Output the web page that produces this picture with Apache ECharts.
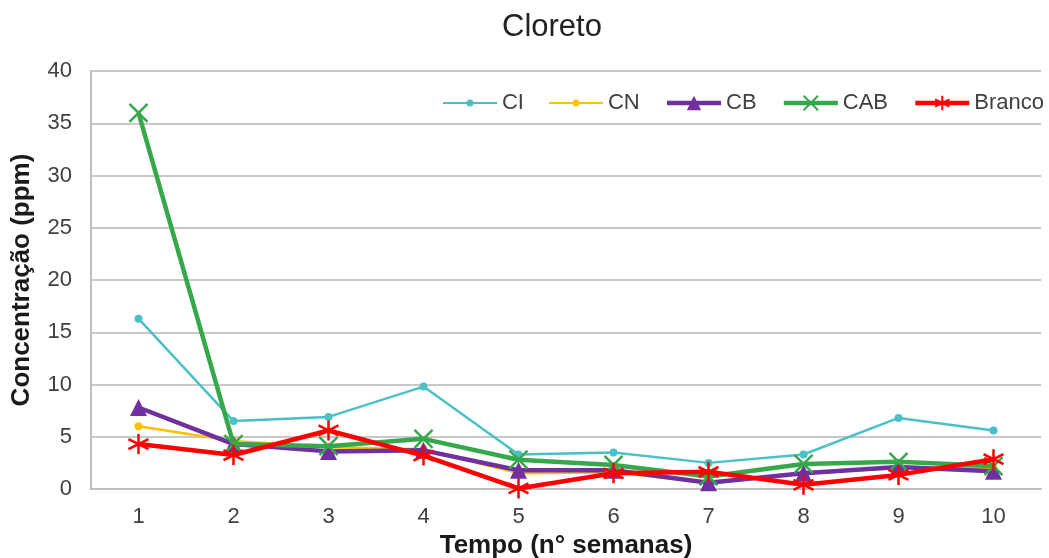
<!DOCTYPE html>
<html>
<head>
<meta charset="utf-8">
<script src="https://cdn.jsdelivr.net/npm/echarts@6/dist/echarts.min.js"></script>
<style>
html,body{margin:0;padding:0;background:#fff;}
#chart{width:1049px;height:558px;}
</style>
</head>
<body>
<div id="chart"></div>
<script>
const categories = ['1','2','3','4','5','6','7','8','9','10'];
const seriesNames = ['CI','CN','CB','CAB','Branco'];
const CI     = [16.3, 6.5, 6.9, 9.8, 3.3, 3.5, 2.5, 3.3, 6.8, 5.6];
const CN     = [6.0, 4.6, 4.0, 3.8, 1.5, 1.6, 0.6, 1.5, 2.0, 2.0];
const CB     = [7.8, 4.3, 3.6, 3.7, 1.8, 1.8, 0.6, 1.5, 2.1, 1.7];
const CAB    = [36.0, 4.3, 4.1, 4.8, 2.8, 2.3, 1.2, 2.4, 2.6, 2.2];
const Branco = [4.3, 3.25, 5.6, 3.2, 0.05, 1.5, 1.65, 0.4, 1.35, 2.85];
const yTicks = {min: 0, max: 40, interval: 5};

const FONT = 'Liberation Sans, Arial, sans-serif';
const xPath = 'path://M0,0 L10,10 M10,0 L0,10';
const starPath = 'path://M5,0 L5,10 M0.7,2.5 L9.3,7.5 M0.7,7.5 L9.3,2.5';
// legend icon: thin line with a small dot, drawn in a 54x18 box
const lineDot = 'path://M0,0h0.05v0.05h-0.05z M53.95,17.95h0.05v0.05h-0.05z ' +
  'M0,7.9 H23.6 V10.1 H0 Z M30.4,7.9 H54 V10.1 H30.4 Z ' +
  'M23.5,9 a3.5,3.5 0 1,1 7,0 a3.5,3.5 0 1,1 -7,0 Z';

const chart = echarts.init(document.getElementById('chart'), null, {renderer: 'canvas'});
chart.setOption({
  backgroundColor: '#fff',
  animation: false,
  title: {
    text: 'Cloreto', left: 497, top: 7,
    textStyle: {fontFamily: FONT, fontSize: 31, fontWeight: 'normal', color: '#222'}
  },
  legend: {
    right: 0, top: 87, itemWidth: 54, itemHeight: 18, itemGap: 25,
    lineStyle: {width: 'inherit'},
    textStyle: {fontFamily: FONT, fontSize: 22, color: '#404040'},
    data: [
      {name: 'CI', icon: lineDot},
      {name: 'CN', icon: lineDot},
      {name: 'CB'},
      {name: 'CAB'},
      {name: 'Branco'}
    ]
  },
  grid: {left: 91, right: 8, top: 71, bottom: 69, containLabel: false, outerBoundsMode: 'none'},
  xAxis: {
    type: 'category', data: categories, boundaryGap: true,
    name: 'Tempo (n° semanas)', nameLocation: 'middle', nameGap: 43,
    nameTextStyle: {fontFamily: FONT, fontSize: 26, fontWeight: 'bold', color: '#1a1a1a'},
    axisLine: {lineStyle: {color: '#bfbfbf', width: 2}},
    axisTick: {show: false},
    axisLabel: {fontFamily: FONT, fontSize: 22, color: '#404040', margin: 17}
  },
  yAxis: {
    type: 'value', min: yTicks.min, max: yTicks.max, interval: yTicks.interval,
    name: 'Concentração (ppm)', nameLocation: 'middle', nameGap: 56,
    nameTextStyle: {fontFamily: FONT, fontSize: 26, fontWeight: 'bold', color: '#1a1a1a'},
    axisLine: {show: true, lineStyle: {color: '#bfbfbf', width: 2}},
    axisTick: {show: false},
    splitLine: {lineStyle: {color: '#c8c8c8', width: 2}},
    axisLabel: {fontFamily: FONT, fontSize: 22, color: '#404040', margin: 19}
  },
  series: [
    {name: 'CI', type: 'line', data: CI, symbol: 'circle', symbolSize: 8,
     lineStyle: {color: '#4bc0c8', width: 2.5}, itemStyle: {color: '#4bc0c8'}, z: 2},
    {name: 'CN', type: 'line', data: CN, symbol: 'circle', symbolSize: 8,
     lineStyle: {color: '#ffc000', width: 2.5}, itemStyle: {color: '#ffc000'}, z: 3},
    {name: 'CB', type: 'line', data: CB, symbol: 'triangle', symbolSize: 17,
     lineStyle: {color: '#7030a0', width: 4.5}, itemStyle: {color: '#7030a0'}, z: 4},
    {name: 'CAB', type: 'line', data: CAB, symbol: xPath, symbolSize: 18,
     lineStyle: {color: '#36a84c', width: 4.5},
     itemStyle: {color: '#36a84c', borderColor: '#36a84c', borderWidth: 2.5}, z: 5},
    {name: 'Branco', type: 'line', data: Branco, symbol: starPath, symbolSize: 20,
     lineStyle: {color: '#ff0000', width: 4.5},
     itemStyle: {color: '#ff0000', borderColor: '#ff0000', borderWidth: 2.5}, z: 6}
  ]
});
</script>
</body>
</html>
